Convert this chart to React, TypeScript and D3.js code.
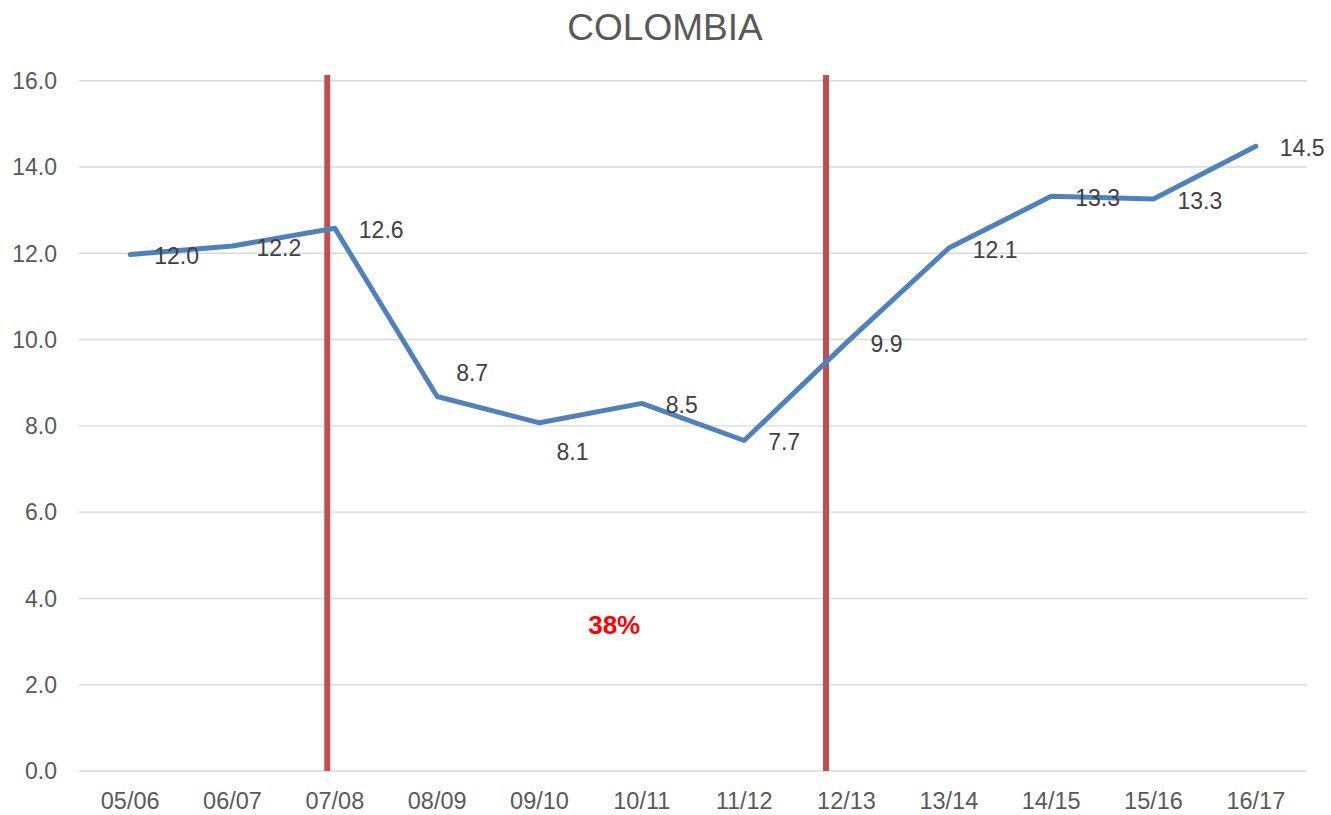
import React from "react";
import * as d3 from "d3";

const categories = ["05/06","06/07","07/08","08/09","09/10","10/11","11/12","12/13","13/14","14/15","15/16","16/17"];
const values = [11.97,12.17,12.58,8.68,8.07,8.52,7.66,9.93,12.12,13.32,13.26,14.48];
const labels = ["12.0","12.2","12.6","8.7","8.1","8.5","7.7","9.9","12.1","13.3","13.3","14.5"];
const labelPlacement = ["right","right","right","above","below","right","right","right","right","right","right","right"];
const yTicks = [0,2,4,6,8,10,12,14,16];
// red marker lines, in category-band units from the left edge of the plot
const markerPositions = [2.426, 7.3];
const annotationText = "38%";
const annotationPos = { band: 5.23, value: 3.4 };
const title = "COLOMBIA";

const W = 1331, H = 815;
const m = { left: 79, right: 1307, top: 80.7, bottom: 771 };
const font = "'Liberation Sans', Arial, sans-serif";

export default function App() {
  const x = d3.scaleBand<string>().domain(categories).range([m.left, m.right]).padding(0);
  const xPos = d3.scaleLinear().domain([0, categories.length]).range([m.left, m.right]);
  const y = d3.scaleLinear().domain([0, 16]).range([m.bottom, m.top]);
  const cx = (c: string) => (x(c) as number) + x.bandwidth() / 2;
  const line = d3.line<number>().x((_, i) => cx(categories[i])).y(d => y(d));

  const labelOffset = (p: string) => {
    if (p === "above") return { dx: 19, dy: -24 };
    if (p === "below") return { dx: 17, dy: 29 };
    return { dx: 24, dy: 1.5 };
  };

  return (
    <svg width={W} height={H} style={{ position: "absolute", left: 0, top: 0, background: "#fff" }} fontFamily={font}>
      <text x={665} y={39.5} textAnchor="middle" fontSize={37} fill="#595959">{title}</text>
      {yTicks.map(t => (
        <g key={t}>
          <line x1={m.left} x2={m.right} y1={y(t)} y2={y(t)} stroke="#d9d9d9" strokeWidth={1.4} />
          <text x={57} y={y(t)} dy="0.36em" textAnchor="end" fontSize={23} fill="#595959">{t.toFixed(1)}</text>
        </g>
      ))}
      {categories.map(c => (
        <text key={c} x={cx(c)} y={809} textAnchor="middle" fontSize={23.5} fill="#595959">{c}</text>
      ))}
      {markerPositions.map((p, i) => (
        <line key={i} x1={xPos(p)} x2={xPos(p)} y1={75} y2={m.bottom} stroke="#C0504D" strokeWidth={6} />
      ))}
      <path d={line(values) as string} fill="none" stroke="#4F81BD" strokeWidth={5} strokeLinejoin="round" strokeLinecap="round" />
      {values.map((v, i) => {
        const o = labelOffset(labelPlacement[i]);
        return (
          <text key={i} x={cx(categories[i]) + o.dx} y={y(v) + o.dy} dy="0.36em" fontSize={23} fill="#404040">{labels[i]}</text>
        );
      })}
      <text x={xPos(annotationPos.band)} y={y(annotationPos.value)} dy="0.36em" textAnchor="middle" fontSize={26} fontWeight="bold" fill="#FF0000">{annotationText}</text>
    </svg>
  );
}
